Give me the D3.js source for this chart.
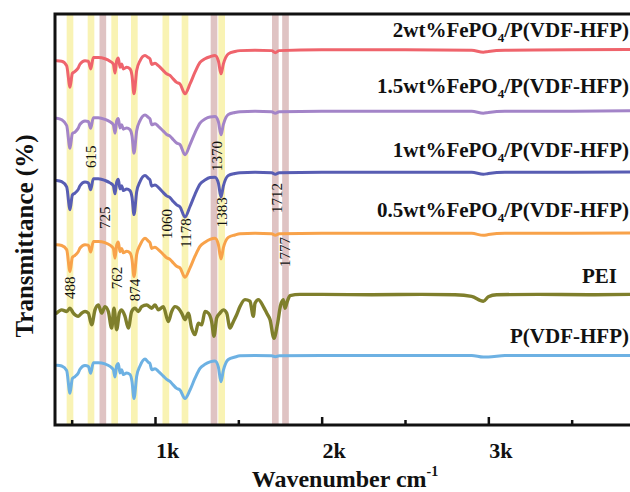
<!DOCTYPE html>
<html><head><meta charset="utf-8">
<script src="https://cdn.jsdelivr.net/npm/d3@7"></script>
<style>
body{margin:0;background:#fff;}
svg{display:block;}
text{font-family:"Liberation Serif","Times New Roman",serif;fill:#111;}
</style>
</head><body>
<svg id="c" width="630" height="492"></svg>
<script>
// ---------- DATA ----------
const majorTicks = [1000, 2000, 3000];
const minorTicks = [500, 1500, 2500, 3500];
const tickLabels = ["1k", "2k", "3k"];

const yellowBands = [490, 616, 758, 876, 1065, 1180, 1400];
const pinkBands = [687, 1354, 1722, 1783];
const bandWidth = 40;

const seriesNames = ["2wt%FePO4/P(VDF-HFP)", "1.5wt%FePO4/P(VDF-HFP)", "1wt%FePO4/P(VDF-HFP)",
                     "0.5wt%FePO4/P(VDF-HFP)", "PEI", "P(VDF-HFP)"];
const seriesOffsets = [90, 75, 60, 45, 30, 15];

const wnComposite = [410,440,470,490,504,520,540,550,580,600,614,630,660,700,730,750,760,770,780,790,
  800,810,830,850,862,874,890,910,940,960,970,980,1000,1020,1050,1070,1090,1110,1130,1150,
  1180,1210,1240,1270,1300,1330,1360,1380,1396,1410,1440,1480,1510,1600,1700,1722,1745,2000,2500,2900,
  2970,3000,3100,3500,3860];

const t2wt = [-2.5,-2.6,-3.7,-9.0,-5.6,-5.1,-4.2,-3.3,-2.5,-2.6,
  -4.5,-1.7,-1.7,-2.0,-2.6,-3.3,-5.5,-2.5,-1.8,-4.1,
  -3.3,-4.5,-4.1,-4.5,-6.1,-10.6,-4.9,-2.5,-1.2,-1.7,
  -2.0,-3.4,-3.1,-3.7,-4.9,-5.7,-6.1,-7.0,-7.8,-8.2,
  -10.6,-8.2,-5.3,-2.9,-2.0,-1.5,-1.2,-2.5,-5.7,-3.3,
  -0.8,-0.2,0,0.1,0,-0.5,0,0.2,0.2,0.1,
  -0.4,-0.2,0.1,0.2,0.3];
const t15wt = [-1.6,-2.0,-3.4,-9.0,-5.4,-5.0,-4.0,-3.1,-2.3,-2.4,
  -4.1,-1.5,-1.5,-1.9,-2.5,-3.2,-5.3,-2.3,-1.7,-4.0,
  -3.2,-4.3,-4.0,-4.4,-5.9,-10.2,-4.7,-2.2,-0.8,-1.4,
  -1.8,-3.2,-3.0,-3.6,-4.8,-5.6,-6.0,-6.9,-7.7,-8.1,
  -10.6,-8.1,-5.2,-2.8,-1.8,-1.3,-1.2,-2.4,-5.7,-3.2,
  -0.7,-0.2,0,0.1,0,-0.4,0,0.1,0.1,0.1,
  -0.4,-0.2,0.1,0.1,0.2];
const t1wt = [-1.9,-2.2,-3.5,-9.1,-5.5,-5.0,-4.1,-3.2,-2.3,-2.5,
  -4.2,-1.5,-1.5,-1.9,-2.5,-3.2,-5.2,-2.3,-1.6,-4.0,
  -3.2,-4.4,-4.0,-4.4,-6.0,-10.3,-4.7,-2.2,-0.7,-1.4,
  -1.8,-3.3,-3.0,-3.6,-4.9,-5.7,-6.1,-7.1,-7.9,-8.4,
  -10.9,-8.3,-5.3,-2.8,-1.8,-1.2,-1.1,-2.5,-6.0,-3.3,
  -0.7,-0.2,0,0.1,0,-0.4,0,0.1,0.1,0.1,
  -0.4,-0.2,0.1,0.1,0.2];
const t05wt = [-2.7,-2.9,-3.9,-9.3,-5.8,-5.3,-4.4,-3.5,-2.7,-2.8,
  -4.5,-1.9,-1.9,-2.2,-2.8,-3.6,-6.0,-2.8,-2.0,-4.4,
  -3.6,-4.7,-4.3,-4.7,-6.3,-10.5,-5.1,-2.8,-1.1,-1.8,
  -2.2,-3.6,-3.3,-3.9,-5.1,-5.9,-6.3,-7.2,-8.0,-8.4,
  -10.7,-8.4,-5.5,-3.1,-2.1,-1.4,-1.1,-2.6,-6.2,-3.5,
  -0.9,-0.3,0,0.1,0,-0.4,0,0.1,0.1,0.1,
  -0.4,-0.2,0.1,0.1,0.2];
const tPVDF = [-2.3,-2.5,-3.6,-9.2,-5.6,-5.1,-4.2,-3.3,-2.4,-2.6,
  -4.3,-1.7,-1.7,-2.0,-2.6,-3.4,-5.2,-2.4,-1.9,-4.2,
  -3.4,-4.6,-4.2,-4.6,-6.3,-10.5,-5.0,-2.5,-0.8,-1.6,
  -1.9,-3.4,-3.2,-3.8,-5.0,-5.8,-6.3,-7.2,-8.0,-8.4,
  -10.5,-8.4,-5.5,-3.1,-2.1,-1.5,-1.3,-2.7,-6.4,-3.6,
  -0.9,-0.3,0,0.1,0,-0.2,0,0.1,0.1,0.1,
  -0.3,-0.3,0.1,0.1,0.1];

const wnPEI = [410,440,470,490,510,540,560,580,600,620,640,660,680,700,720,740,754,770,786,800,
  820,840,860,880,900,920,950,980,1000,1020,1050,1080,1100,1120,1140,1160,1180,1200,1220,1240,
  1260,1280,1300,1320,1340,1354,1370,1390,1410,1430,1450,1470,1490,1510,1540,1570,1590,1600,1620,1650,
  1670,1690,1714,1734,1754,1770,1780,1794,1810,1870,2000,2300,2600,2800,2900,2970,3000,3050,3300,3600,3860];
const tPEI = [-4.5,-3.7,-4.1,-3.3,-4.5,-5.3,-4.5,-4.1,-4.5,-7.4,
  -3.7,-2.5,-4.5,-2.9,-4.1,-8.2,-3.3,-8.6,-4.5,-3.7,
  -5.3,-8.2,-4.1,-3.3,-4.1,-2.9,-2.5,-3.3,-2.5,-3.7,
  -2.9,-6.6,-4.1,-2.9,-3.3,-4.5,-6.1,-4.5,-8.2,-9.8,
  -7.0,-7.4,-4.1,-4.5,-6.6,-10.2,-5.7,-4.5,-3.7,-4.5,
  -8.2,-6.6,-4.9,-2.9,-1.2,-1.6,-5.3,-2.1,-1.2,-2.9,
  -4.5,-6.1,-10.7,-7.4,-2.5,-1.2,-3.3,-1.6,-0.2,0.1,
  0.1,0,0.1,0,-0.4,-1.6,-0.5,0,0.1,0,0.1];

const peakLabels = ["488","615","725","762","874","1060","1178","1370","1383","1712","1777"];
const peakLabelWn = [490,616,700,772,880,1072,1186,1372,1402,1732,1780];
const peakLabelT  = [31.7,63.9,48.9,34.1,31.2,47.4,45.2,64.1,50.3,53.8,40.5];

// ---------- LAYOUT / STYLE ----------
const W = 630, H = 492;
const M = {left: 55, top: 14, right: 630, bottom: 425};
const colors = ["#ef646c", "#a384c8", "#585db3", "#f8a24a", "#7f7f2c", "#6db1e3"];
const widths = [3, 3, 3, 3, 3.4, 3];
const labelDy = [-13.6, -18.6, -15.7, -16.7, -11.7, -12.8];
const labelRight = [629, 629, 629, 629, 617, 629];

const x = d3.scaleLinear().domain([400, 3850]).range([M.left, M.right]);
const y = d3.scaleLinear().domain([-2, 99]).range([M.bottom, M.top]);

const svg = d3.select("#c");

// bands
const bands = yellowBands.map(c => ({c, col: "#f9f3b4"})).concat(pinkBands.map(c => ({c, col: "#dfc3c3"})));
svg.append("g").selectAll("rect").data(bands).join("rect")
  .attr("x", d => x(d.c - bandWidth / 2))
  .attr("width", d => x(d.c + bandWidth / 2) - x(d.c - bandWidth / 2))
  .attr("y", M.top).attr("height", M.bottom - M.top)
  .attr("fill", d => d.col);

// series
const seriesData = [
  wnComposite.map((w, i) => [w, t2wt[i]]),
  wnComposite.map((w, i) => [w, t15wt[i]]),
  wnComposite.map((w, i) => [w, t1wt[i]]),
  wnComposite.map((w, i) => [w, t05wt[i]]),
  wnPEI.map((w, i) => [w, tPEI[i]]),
  wnComposite.map((w, i) => [w, tPVDF[i]])
];
const line = d3.line().curve(d3.curveMonotoneX);
svg.append("g").selectAll("path").data(seriesData).join("path")
  .attr("d", (d, k) => line(d.map(p => [x(p[0]), y(p[1] + seriesOffsets[k])])))
  .attr("fill", "none")
  .attr("stroke", (d, k) => colors[k])
  .attr("stroke-width", (d, k) => widths[k])
  .attr("stroke-linejoin", "round").attr("stroke-linecap", "round");

// series labels
const lab = svg.append("g").attr("font-weight", "bold").attr("font-size", 21);
seriesNames.forEach((name, k) => {
  const t = lab.append("text").attr("text-anchor", "end")
    .attr("x", labelRight[k]).attr("y", y(seriesOffsets[k]) + labelDy[k]);
  const idx = name.indexOf("PO4");
  if (idx >= 0) {
    t.append("tspan").text(name.slice(0, idx + 2));
    t.append("tspan").text("4").attr("font-size", 13).attr("dy", 5);
    t.append("tspan").text(name.slice(idx + 3)).attr("dy", -5);
  } else {
    t.text(name);
  }
});

// peak labels
svg.append("g").selectAll("text").data(peakLabels).join("text")
  .attr("transform", (d, i) => `translate(${x(peakLabelWn[i])},${y(peakLabelT[i])}) rotate(-90)`)
  .attr("text-anchor", "middle").attr("dominant-baseline", "central")
  .attr("font-size", 15)
  .text(d => d);

// axes
const gMajor = svg.append("g").attr("transform", `translate(0,${M.bottom})`)
  .call(d3.axisBottom(x).tickValues(majorTicks).tickSizeInner(-8).tickSizeOuter(0)
    .tickFormat((d, i) => tickLabels[i]));
gMajor.select(".domain").remove();
gMajor.selectAll(".tick line").attr("stroke", "#111").attr("stroke-width", 2.5);
gMajor.selectAll(".tick text").attr("x", 12).attr("y", 33).attr("dy", 0)
  .attr("font-size", 22).attr("font-weight", "bold")
  .attr("font-family", '"Liberation Serif","Times New Roman",serif').attr("fill", "#111");

const gMinor = svg.append("g").attr("transform", `translate(0,${M.bottom})`)
  .call(d3.axisBottom(x).tickValues(minorTicks).tickSizeInner(-5).tickSizeOuter(0).tickFormat(""));
gMinor.select(".domain").remove();
gMinor.selectAll(".tick line").attr("stroke", "#111").attr("stroke-width", 2.5);

// frame
svg.append("path")
  .attr("d", `M${W},${M.top}H${M.left}V${M.bottom}H${W}`)
  .attr("fill", "none").attr("stroke", "#111").attr("stroke-width", 3);

// axis titles
const xt = svg.append("text").attr("x", 345).attr("y", 487)
  .attr("text-anchor", "middle").attr("font-size", 24).attr("font-weight", "bold");
xt.append("tspan").text("Wavenumber cm");
xt.append("tspan").text("-1").attr("font-size", 14).attr("dy", -11);

svg.append("text").attr("transform", `translate(33,236) rotate(-90)`)
  .attr("text-anchor", "middle").attr("font-size", 25).attr("font-weight", "bold")
  .text("Transmittance (%)");
</script>
</body></html>
